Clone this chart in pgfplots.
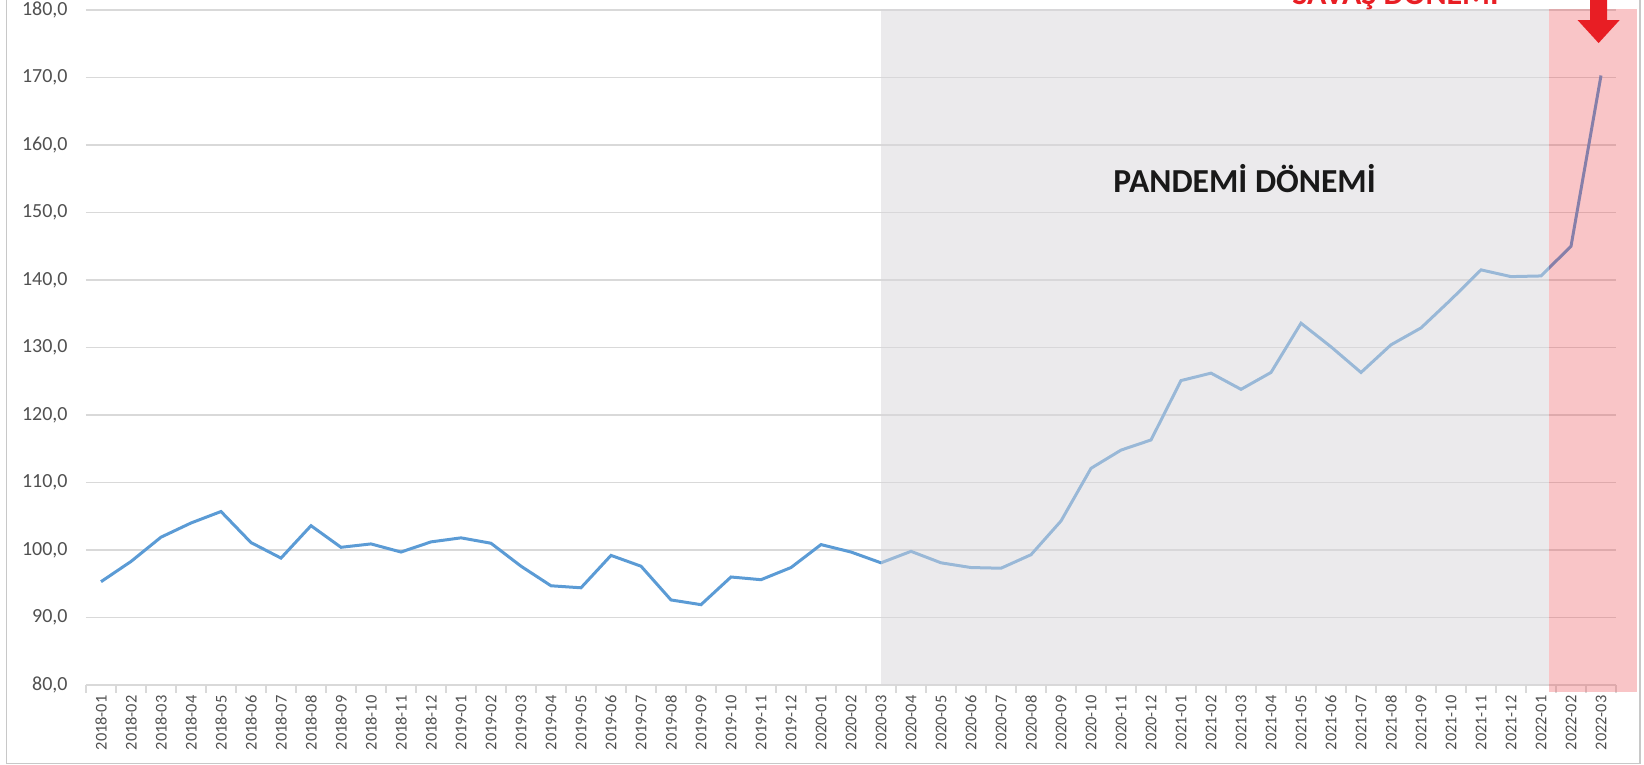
\documentclass[border=0pt]{standalone}
\usepackage{fontspec}
\setmainfont{Carlito}
\usepackage{pgfplots}
\pgfplotsset{compat=1.18}

\definecolor{linblue}{RGB}{91,155,213}
\definecolor{gridgray}{RGB}{217,217,217}
\definecolor{labgray}{RGB}{80,80,80}
\definecolor{shadegray}{RGB}{216,214,218}
\definecolor{warred}{RGB}{232,30,36}
\definecolor{framegray}{RGB}{200,200,200}

\begin{document}
\begin{tikzpicture}
\useasboundingbox (-43pt,-40pt) rectangle (779pt,342.5pt);
\begin{axis}[
    x=15pt, y=3.375pt,
    xmin=-0.5, xmax=50.5,
    ymin=80, ymax=180,
    clip=false,
    axis x line*=bottom,
    axis y line*=left,
    x axis line style={draw=gridgray, line width=0.6pt},
    y axis line style={draw=none},
    ymajorgrids=true,
    grid style={draw=gridgray, line width=0.6pt},
    ytick={80,90,...,180},
    xtick={0,...,50},
    minor xtick={-0.5,0.5,...,50.5},
    major tick length=0pt,
    minor tick length=4pt,
    minor tick style={draw=gridgray, line width=0.6pt},
    tick align=outside,
    xticklabels={2018-01,2018-02,2018-03,2018-04,2018-05,2018-06,2018-07,2018-08,2018-09,2018-10,2018-11,2018-12,
                 2019-01,2019-02,2019-03,2019-04,2019-05,2019-06,2019-07,2019-08,2019-09,2019-10,2019-11,2019-12,
                 2020-01,2020-02,2020-03,2020-04,2020-05,2020-06,2020-07,2020-08,2020-09,2020-10,2020-11,2020-12,
                 2021-01,2021-02,2021-03,2021-04,2021-05,2021-06,2021-07,2021-08,2021-09,2021-10,2021-11,2021-12,
                 2022-01,2022-02,2022-03},
    xticklabel style={rotate=90, anchor=east, inner sep=0pt, text=labgray,
        font=\fontsize{8.2}{10}\selectfont},
    xticklabel shift=5pt,
    yticklabel style={anchor=east, inner sep=0pt, text=labgray,
        font=\fontsize{10}{12}\selectfont},
    yticklabel shift=9pt,
    /pgf/number format/.cd, fixed, fixed zerofill, precision=1, use comma,
        assume math mode=true,
]
\addplot[color=linblue, line width=1.5pt, mark=none] coordinates {
(0,95.3) (1,98.3) (2,101.9) (3,104.0) (4,105.7) (5,101.1) (6,98.8) (7,103.6)
(8,100.4) (9,100.9) (10,99.7) (11,101.2) (12,101.8) (13,101.0) (14,97.6) (15,94.7)
(16,94.4) (17,99.2) (18,97.6) (19,92.6) (20,91.9) (21,96.0) (22,95.6) (23,97.4)
(24,100.8) (25,99.7) (26,98.1) (27,99.8) (28,98.1) (29,97.4) (30,97.3) (31,99.3)
(32,104.3) (33,112.1) (34,114.8) (35,116.3) (36,125.1) (37,126.2) (38,123.8) (39,126.3)
(40,133.6) (41,130.1) (42,126.3) (43,130.4) (44,132.9) (45,137.1) (46,141.5) (47,140.5)
(48,140.6) (49,145.0) (50,170.3)
};

% shaded periods
\fill[shadegray, fill opacity=0.5] (axis cs:26,80) rectangle (axis cs:48.27,180.1);
\fill[warred!85!white, fill opacity=0.3] (axis cs:48.27,78.96) rectangle (axis cs:51.2,180.1);

\node[anchor=base, font=\bfseries\fontsize{16.8}{18}\selectfont, text=black!90]
    at (axis cs:38.12,152.9) {PANDEMİ DÖNEMİ};
\node[anchor=base, font=\bfseries\fontsize{16}{18}\selectfont, text=warred]
    at (axis cs:43.15,180.74) {SAVAŞ DÖNEMİ};

% arrow
\fill[warred] (axis cs:49.64,185) -- (axis cs:49.64,178.5) -- (axis cs:49.22,178.5)
    -- (axis cs:49.92,175.1) -- (axis cs:50.62,178.5) -- (axis cs:50.2,178.5)
    -- (axis cs:50.2,185) -- cycle;
\end{axis}
\draw[framegray, line width=0.7pt] (-39.6pt,345pt) -- (-39.6pt,-39.4pt) -- (777pt,-39.4pt) -- (777pt,345pt);
\end{tikzpicture}
\end{document}
